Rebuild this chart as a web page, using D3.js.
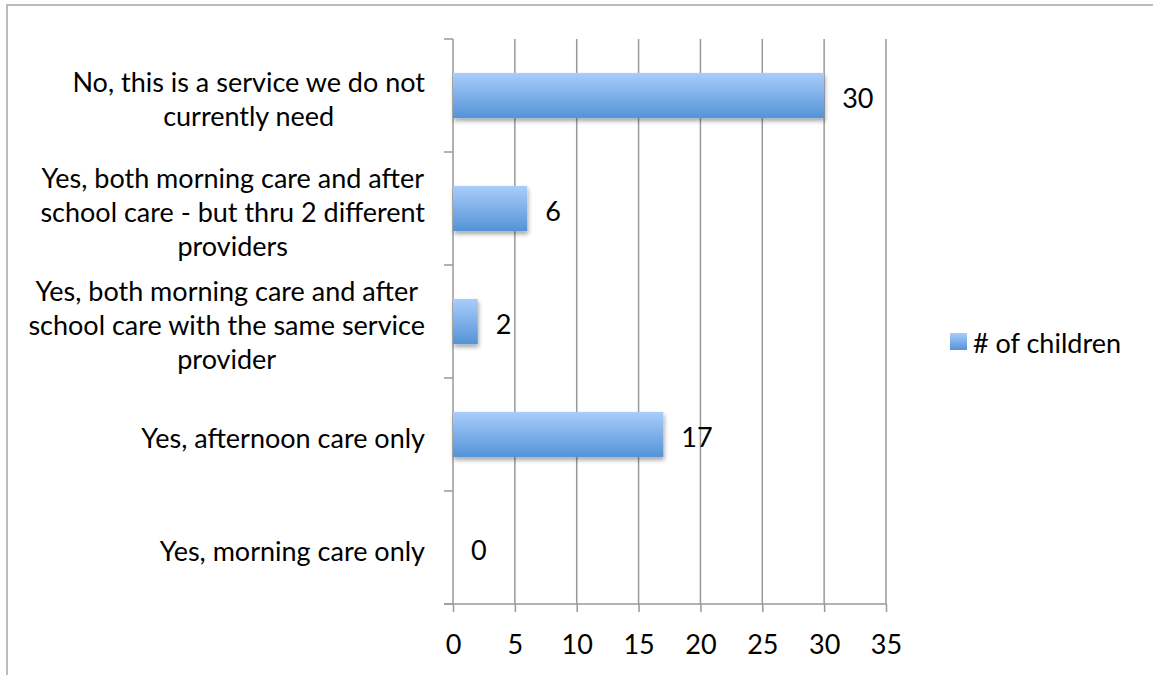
<!DOCTYPE html>
<html>
<head>
<meta charset="utf-8">
<script src="https://cdn.jsdelivr.net/npm/d3@7/dist/d3.min.js"></script>
<style>
  html, body { margin: 0; padding: 0; background: #fff; }
  svg { display: block; }
  text { font-family: Lato, "Open Sans", sans-serif; fill: #000; }
</style>
</head>
<body>
<svg id="chart" width="1153" height="675"></svg>
<script>
// ---- data ----
const categoryLines = [
  ["No, this is a service we do not", "currently need"],
  ["Yes, both morning care and after", "school care - but thru 2 different", "providers"],
  ["Yes, both morning care and after", "school care with the same service", "provider"],
  ["Yes, afternoon care only"],
  ["Yes, morning care only"]
];
const categories = categoryLines.map(l => l.join(" "));
const values = [30, 6, 2, 17, 0];
const seriesName = "# of children";
const xTicks = [0, 5, 10, 15, 20, 25, 30, 35];

// ---- layout ----
const W = 1153, H = 675;
const plot = { left: 453, right: 886, top: 39, bottom: 604 };
const fontSize = 27;
const lineH = 34;
const gridColor = "#999999";

const svg = d3.select("#chart");

const defs = svg.append("defs");
const grad = defs.append("linearGradient").attr("id", "barGrad")
  .attr("x1", 0).attr("y1", 0).attr("x2", 0).attr("y2", 1);
grad.append("stop").attr("offset", "0%").attr("stop-color", "#aacdfb");
grad.append("stop").attr("offset", "100%").attr("stop-color", "#5393d7");
const filt = defs.append("filter").attr("id", "shadow")
  .attr("x", "-10%").attr("y", "-20%").attr("width", "130%").attr("height", "160%");
filt.append("feDropShadow").attr("dx", 1).attr("dy", 3).attr("stdDeviation", 2)
  .attr("flood-color", "#000").attr("flood-opacity", 0.35);

// frame
svg.append("path")
  .attr("d", `M7,${H} L7,5 L${W},5`)
  .attr("fill", "none").attr("stroke", "#a6a6a6").attr("stroke-width", 1.5);

const x = d3.scaleLinear().domain([0, 35]).range([plot.left, plot.right]);
const y = d3.scaleBand().domain(categories).range([plot.top, plot.bottom])
  .paddingInner(0.6).paddingOuter(0.3);
const step = y.step();

// vertical gridlines
svg.append("g").selectAll("line").data(xTicks.filter(t => t > 0)).join("line")
  .attr("x1", d => x(d)).attr("x2", d => x(d))
  .attr("y1", plot.top).attr("y2", plot.bottom)
  .attr("stroke", gridColor).attr("stroke-width", 1.5);

// x axis
const xAxis = d3.axisBottom(x).tickValues(xTicks).tickSize(8).tickPadding(12)
  .tickFormat(d3.format("d"));
const gx = svg.append("g").attr("transform", `translate(0,${plot.bottom})`).call(xAxis);
gx.select(".domain").remove();
gx.append("line").attr("x1", plot.left - 9).attr("x2", plot.right)
  .attr("y1", 0).attr("y2", 0).attr("stroke", gridColor).attr("stroke-width", 1.5);
gx.selectAll(".tick line").attr("stroke", gridColor).attr("stroke-width", 1.5);
gx.selectAll(".tick text").attr("font-size", fontSize).attr("fill", "#000")
  .attr("font-family", "Lato, 'Open Sans', sans-serif")
  .attr("dy", null).attr("y", 50);

// y axis line and ticks at band boundaries
svg.append("line").attr("x1", plot.left).attr("x2", plot.left)
  .attr("y1", plot.top).attr("y2", plot.bottom)
  .attr("stroke", gridColor).attr("stroke-width", 1.5);
const boundaries = d3.range(categories.length + 1).map(i => plot.top + i * step);
svg.append("g").selectAll("line").data(boundaries).join("line")
  .attr("x1", plot.left - 9).attr("x2", plot.left)
  .attr("y1", d => d).attr("y2", d => d)
  .attr("stroke", gridColor).attr("stroke-width", 1.5);

// bars
svg.append("g").selectAll("rect").data(values.map((v, i) => ({ v, c: categories[i] })))
  .join("rect")
  .filter(d => d.v > 0)
  .attr("x", x(0)).attr("y", d => y(d.c))
  .attr("width", d => x(d.v) - x(0)).attr("height", y.bandwidth())
  .attr("fill", "url(#barGrad)").attr("filter", "url(#shadow)");

// value labels
svg.append("g").selectAll("text").data(values.map((v, i) => ({ v, c: categories[i] })))
  .join("text")
  .attr("x", d => x(d.v) + 18)
  .attr("y", d => y(d.c) + y.bandwidth() / 2 + 12.5)
  .attr("font-size", fontSize)
  .text(d => d.v);

// category labels (block right-aligned, lines centered)
const labelRight = plot.left - 28;
categoryLines.forEach((lines, i) => {
  const cy = y(categories[i]) + y.bandwidth() / 2 + 3.5;
  const g = svg.append("g");
  const texts = lines.map((ln, j) => g.append("text")
    .attr("font-size", fontSize)
    .attr("y", cy + (j - (lines.length - 1) / 2) * lineH + 9.5)
    .attr("text-anchor", "middle")
    .text(ln));
  const wMax = d3.max(texts, t => t.node().getComputedTextLength());
  texts.forEach(t => t.attr("x", labelRight - wMax / 2));
});

// legend
const lg = svg.append("g");
lg.append("rect").attr("x", 950).attr("y", 333).attr("width", 17).attr("height", 17)
  .attr("fill", "url(#barGrad)");
lg.append("text").attr("x", 973).attr("y", 353).attr("font-size", fontSize).text(seriesName);
</script>
</body>
</html>
